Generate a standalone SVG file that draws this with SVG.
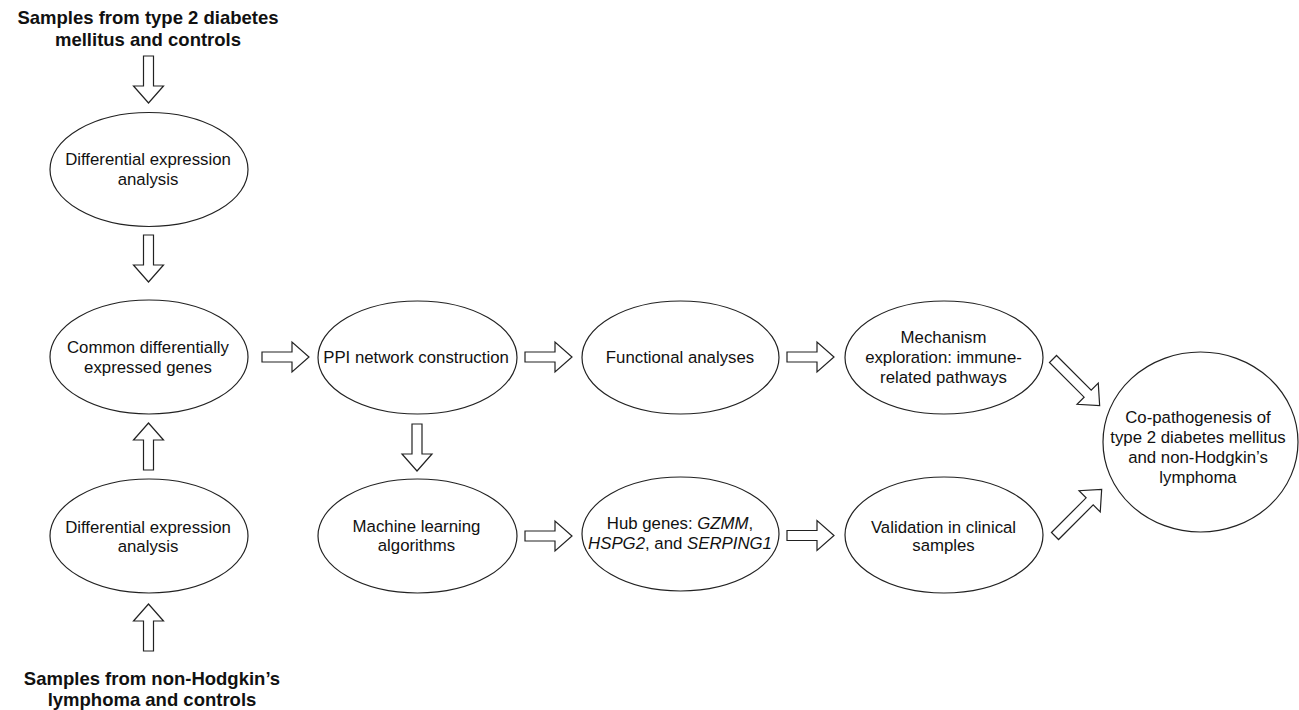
<svg xmlns="http://www.w3.org/2000/svg" width="1299" height="710" viewBox="0 0 1299 710">
<style>
.node ellipse{fill:#fff;stroke:#222;stroke-width:1.2}
.t{font-family:"Liberation Sans",Arial,sans-serif;font-size:16.8px;fill:#111;text-anchor:middle}
.title{font-family:"Liberation Sans",Arial,sans-serif;font-size:18.5px;font-weight:bold;fill:#111;text-anchor:middle}
.ar{fill:#fff;stroke:#222;stroke-width:1.2;stroke-linejoin:miter}
</style>
<defs>
<path id="arr" class="ar" d="M0,-5 H30 V-15 L47,0 L30,15 V5 H0 Z"/>
<path id="arrLong" class="ar" d="M0,-5 H49 V-15 L66,0 L49,15 V5 H0 Z"/>
</defs>
<rect width="1299" height="710" fill="#fff"/>

<g id="title-top">
<text class="title" x="148" y="24">Samples from type 2 diabetes</text>
<text class="title" x="148" y="45.5">mellitus and controls</text>
</g>
<g id="title-bottom">
<text class="title" x="152" y="684.5">Samples from non-Hodgkin’s</text>
<text class="title" x="152" y="706">lymphoma and controls</text>
</g>

<g id="connectors">
<use href="#arr" transform="translate(148.5,56) rotate(90)"/>
<use href="#arr" transform="translate(148.5,235) rotate(90)"/>
<use href="#arr" transform="translate(148.5,470) rotate(-90)"/>
<use href="#arr" transform="translate(148.5,651) rotate(-90)"/>
<use href="#arr" transform="translate(262,357)"/>
<use href="#arr" transform="translate(525,357)"/>
<use href="#arr" transform="translate(787,357)"/>
<use href="#arr" transform="translate(417,424) rotate(90)"/>
<use href="#arr" transform="translate(525,536)"/>
<use href="#arr" transform="translate(787,535.5)"/>
<use href="#arrLong" transform="translate(1053,359) rotate(45)"/>
<use href="#arrLong" transform="translate(1055,536) rotate(-45)"/>
</g>

<g id="dea-top" class="node">
<ellipse cx="149" cy="169.5" rx="99" ry="57"/>
<text class="t" x="148" y="165">Differential expression</text>
<text class="t" x="148" y="185">analysis</text>
</g>
<g id="common-degs" class="node">
<ellipse cx="149" cy="357" rx="99" ry="57"/>
<text class="t" x="148" y="353.3">Common differentially</text>
<text class="t" x="148" y="373">expressed genes</text>
</g>
<g id="dea-bottom" class="node">
<ellipse cx="149" cy="536" rx="99" ry="57"/>
<text class="t" x="148" y="532.7">Differential expression</text>
<text class="t" x="148" y="551.5">analysis</text>
</g>
<g id="ppi" class="node">
<ellipse cx="417.5" cy="357.5" rx="99.5" ry="56.5"/>
<text class="t" x="416" y="362.7">PPI network construction</text>
</g>
<g id="functional" class="node">
<ellipse cx="680.5" cy="357.5" rx="98.5" ry="56.5"/>
<text class="t" x="680" y="362.7">Functional analyses</text>
</g>
<g id="mechanism" class="node">
<ellipse cx="944" cy="357.5" rx="99" ry="56.5"/>
<text class="t" x="943.5" y="343">Mechanism</text>
<text class="t" x="943.5" y="363">exploration: immune-</text>
<text class="t" x="943.5" y="382.5">related pathways</text>
</g>
<g id="machine-learning" class="node">
<ellipse cx="417.5" cy="536" rx="99.5" ry="57"/>
<text class="t" x="416.5" y="531.7">Machine learning</text>
<text class="t" x="416.5" y="551">algorithms</text>
</g>
<g id="hub-genes" class="node">
<ellipse cx="680.5" cy="534" rx="98.5" ry="57"/>
<text class="t" x="680" y="528.5">Hub genes: <tspan font-style="italic">GZMM</tspan>,</text>
<text class="t" x="680" y="548.5"><tspan font-style="italic">HSPG2</tspan>, and <tspan font-style="italic">SERPING1</tspan></text>
</g>
<g id="validation" class="node">
<ellipse cx="944" cy="535" rx="99" ry="58"/>
<text class="t" x="943.5" y="532.7">Validation in clinical</text>
<text class="t" x="943.5" y="551">samples</text>
</g>
<g id="co-pathogenesis" class="node">
<ellipse cx="1200.5" cy="442" rx="97.5" ry="90"/>
<text class="t" x="1198" y="422.7">Co-pathogenesis of</text>
<text class="t" x="1198" y="442.7">type 2 diabetes mellitus</text>
<text class="t" x="1198" y="462.7">and non-Hodgkin’s</text>
<text class="t" x="1198" y="482.7">lymphoma</text>
</g>
</svg>
